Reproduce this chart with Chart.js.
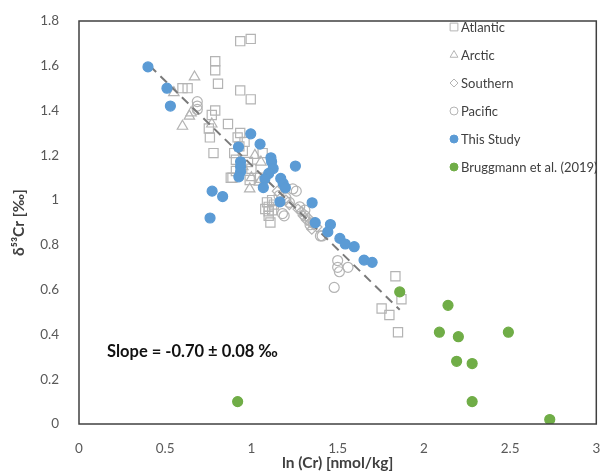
<!DOCTYPE html>
<html>
<head>
<meta charset="utf-8">
<script src="https://cdn.jsdelivr.net/npm/chart.js"></script>
<style>
  body { margin: 0; background: #fff; }
  #wrap { width: 604px; height: 472px; }
</style>
</head>
<body>
<div id="wrap"><canvas id="mycanvas" width="604" height="472"></canvas></div>
<script>
// data: x = ln(Cr) [nmol/kg], y = d53Cr [permil]
var atlanticX = [0.935, 0.996, 0.79, 0.79, 0.806, 0.935, 0.996, 0.60, 0.63, 0.79, 0.77, 0.864, 0.753, 0.759, 0.935, 0.92, 0.78, 0.96, 0.90, 0.91, 0.91, 0.89, 0.98, 1.065, 0.99, 0.88, 1.09, 1.10, 1.10, 1.10, 1.12, 1.12, 1.11, 1.835, 1.87, 1.755, 1.80, 1.85, 0.95, 1.00, 1.05, 0.93, 1.13, 1.08];
var atlanticY = [1.71, 1.72, 1.62, 1.58, 1.52, 1.49, 1.45, 1.50, 1.50, 1.40, 1.38, 1.34, 1.32, 1.28, 1.30, 1.28, 1.21, 1.26, 1.21, 1.18, 1.13, 1.10, 1.17, 1.21, 1.09, 1.10, 0.99, 0.97, 0.95, 0.93, 1.00, 0.955, 0.90, 0.66, 0.557, 0.516, 0.487, 0.41, 1.22, 1.14, 1.10, 1.24, 0.98, 0.96];

var arcticX = [0.67, 0.55, 0.64, 0.65, 0.60, 0.77, 1.02, 1.055, 0.99, 1.046, 0.95, 1.00];
var arcticY = [1.55, 1.48, 1.375, 1.39, 1.33, 1.34, 1.20, 1.17, 1.05, 1.08, 1.15, 1.10];

var southernX = [1.30, 1.32, 1.34, 1.36, 1.33, 1.29, 1.20, 1.15, 1.22, 1.38, 1.27, 1.35];
var southernY = [0.93, 0.91, 0.90, 0.89, 0.92, 0.95, 1.00, 1.04, 0.98, 0.88, 0.96, 0.87];

var pacificX = [0.686, 0.686, 0.686, 1.41, 1.50, 1.50, 1.51, 1.56, 1.48, 1.24, 1.26, 1.20, 1.18, 1.19, 1.31, 1.34, 1.40, 1.31, 1.36, 1.28, 1.16, 1.22];
var pacificY = [1.44, 1.42, 1.405, 0.84, 0.73, 0.70, 0.68, 0.70, 0.61, 1.05, 1.04, 1.01, 0.94, 0.93, 0.955, 0.89, 0.84, 0.93, 0.90, 0.97, 1.02, 0.99];

var studyX = [0.40, 0.51, 0.53, 0.996, 1.05, 0.925, 0.937, 0.937, 0.937, 0.927, 1.113, 1.117, 1.126, 1.10, 1.078, 1.069, 1.17, 1.184, 1.197, 0.772, 0.833, 0.76, 1.255, 1.165, 1.352, 1.37, 1.458, 1.443, 1.513, 1.544, 1.596, 1.653, 1.70];
var studyY = [1.595, 1.50, 1.42, 1.296, 1.25, 1.237, 1.171, 1.149, 1.127, 1.104, 1.189, 1.171, 1.141, 1.119, 1.095, 1.056, 1.097, 1.074, 1.055, 1.04, 1.016, 0.92, 1.152, 0.992, 0.988, 0.899, 0.891, 0.858, 0.829, 0.804, 0.792, 0.732, 0.722];

var bruggX = [1.86, 2.14, 2.09, 2.20, 2.19, 2.28, 2.49, 2.28, 2.73, 0.92];
var bruggY = [0.59, 0.53, 0.41, 0.39, 0.28, 0.27, 0.41, 0.10, 0.02, 0.10];

var trendX = [0.41, 1.86];
var trendY = [1.60, 0.51];

var slopeText = 'Slope = -0.70 \u00b1 0.08 \u2030';

function pts(xs, ys) {
	var out = [];
	for (var i in xs) out.push({ x: xs[i], y: ys[i] });
	return out;
}

var gray = '#b4b4b4';
var FONT = 'Lato, "Open Sans", sans-serif';

var extras = {
	id: 'extras',
	afterDraw: function(chart) {
		var ctx = chart.ctx;
		var a = chart.chartArea;
		ctx.save();
		// plot frame
		ctx.strokeStyle = '#404040';
		ctx.lineWidth = 1.5;
		ctx.strokeRect(a.left, a.top, a.right - a.left, a.bottom - a.top);

		// legend inside the plot
		var y = 27;
		chart.data.datasets.forEach(function(ds) {
			if (ds.noLegend) return;
			var r = 4;
			if (ds.pointStyle === 'rect') r = 5.5;
			if (ds.pointStyle === 'triangle') r = 4.5;
			ctx.fillStyle = ds.backgroundColor;
			ctx.strokeStyle = ds.borderColor;
			ctx.lineWidth = 1;
			Chart.helpers.drawPoint(ctx, { pointStyle: ds.pointStyle, radius: r, borderWidth: 1 }, 454, y);
			ctx.fillStyle = '#404040';
			ctx.font = '13px ' + FONT;
			ctx.textBaseline = 'middle';
			ctx.textAlign = 'left';
			ctx.fillText(ds.label, 461, y + 1);
			y += 28;
		});

		// slope note
		ctx.fillStyle = '#111';
		ctx.font = 'bold 16.5px ' + FONT;
		ctx.textBaseline = 'middle';
		ctx.fillText(slopeText, 107, 352);
		ctx.restore();
	}
};

function series(label, xs, ys, style, fill, border, r, order) {
	return {
		label: label,
		data: pts(xs, ys),
		pointStyle: style,
		backgroundColor: fill,
		borderColor: border,
		pointBorderWidth: 1.2,
		pointRadius: r,
		pointHoverRadius: r,
		order: order
	};
}

var ctx = document.getElementById('mycanvas').getContext('2d');

var chart = new Chart(ctx, {
	type: 'scatter',
	data: {
		datasets: [
			series('Atlantic', atlanticX, atlanticY, 'rect', 'rgba(255,255,255,0)', gray, 6.5, 4),
			series('Arctic', arcticX, arcticY, 'triangle', 'rgba(255,255,255,0)', gray, 6, 4),
			series('Southern', southernX, southernY, 'rectRot', 'rgba(255,255,255,0)', gray, 5, 4),
			series('Pacific', pacificX, pacificY, 'circle', 'rgba(255,255,255,0)', gray, 5, 4),
			series('This Study', studyX, studyY, 'circle', '#5b9bd5', '#5b9bd5', 5, 1),
			series('Bruggmann et al. (2019)', bruggX, bruggY, 'circle', '#70ad47', '#70ad47', 5, 1),
			{
				label: 'trend',
				noLegend: true,
				data: pts(trendX, trendY),
				showLine: true,
				borderColor: '#7a7a7a',
				borderWidth: 2,
				borderDash: [9, 6],
				pointRadius: 0,
				order: 2
			}
		]
	},
	options: {
		responsive: false,
		animation: false,
		events: [],
		layout: { padding: { top: 21, right: 1, left: 0, bottom: 0 } },
		plugins: {
			legend: { display: false },
			tooltip: { enabled: false }
		},
		scales: {
			x: {
				type: 'linear',
				min: 0, max: 3,
				grid: { display: false },
				border: { display: false },
				ticks: {
					stepSize: 0.5,
					color: '#595959',
					font: { family: FONT, size: 13.5 },
					padding: 9,
					callback: function(v) { return String(+v.toFixed(1)); }
				},
				title: {
					display: true,
					text: 'ln (Cr) [nmol/kg]',
					color: '#404040',
					font: { family: FONT, size: 15.5, weight: 'bold' },
					padding: { top: 3, bottom: 0 }
				},
				afterFit: function(s) { s.height = 48; s.paddingLeft = 0; s.paddingRight = 0; }
			},
			y: {
				min: 0, max: 1.8,
				grid: { display: false },
				border: { display: false },
				ticks: {
					stepSize: 0.2,
					color: '#595959',
					font: { family: FONT, size: 13.5 },
					padding: 12,
					callback: function(v) { return String(+v.toFixed(1)); }
				},
				title: {
					display: true,
					text: '\u03b4\u2075\u00b3Cr [\u2030]',
					color: '#404040',
					font: { family: FONT, size: 15.5, weight: 'bold' },
					padding: { top: 10, bottom: 0 }
				},
				afterFit: function(s) { s.width = 79; s.paddingTop = 0; s.paddingBottom = 0; }
			}
		}
	},
	plugins: [extras]
});
</script>
</body>
</html>
